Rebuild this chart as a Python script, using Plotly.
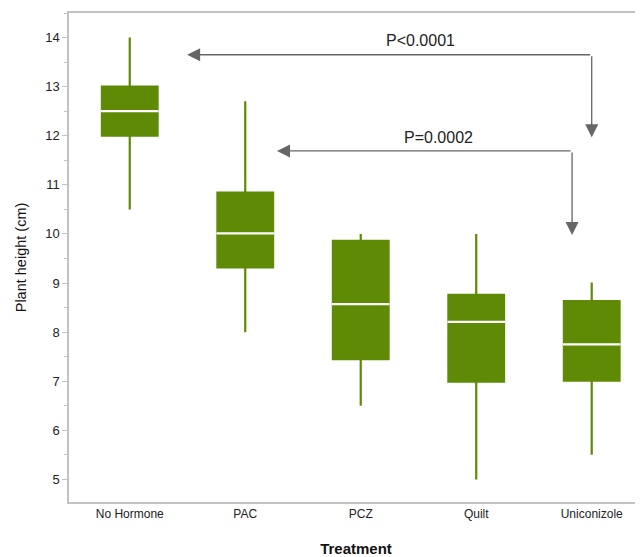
import plotly.graph_objects as go

categories = ["No Hormone", "PAC", "PCZ", "Quilt", "Uniconizole"]
lower_whisker = [10.5, 8.0, 6.5, 5.0, 5.5]
q1 = [12.0, 9.32, 7.45, 6.99, 7.01]
median = [12.5, 10.01, 8.57, 8.21, 7.75]
q3 = [13.0, 10.84, 9.86, 8.76, 8.63]
upper_whisker = [14.0, 12.7, 10.0, 10.0, 9.01]

y_ticks = [5, 6, 7, 8, 9, 10, 11, 12, 13, 14]

# comparison arrows
comp_labels = ["P<0.0001", "P=0.0002"]
comp_from_x = [4.0, 3.83]
comp_to_x = [0.497, 1.275]
comp_level_y = [13.65, 11.69]
comp_drop_y = [11.97, 9.98]
comp_label_x = [2.52, 2.67]
comp_label_y = [13.95, 11.97]

GREEN = "#5f8a06"
GRAY_AX = "#c2c2c2"
ARROW = "#666666"
FONT = "Liberation Sans, Arial, sans-serif"

xs = list(range(len(categories)))
BW = 0.482

fig = go.Figure()
fig.add_trace(go.Box(
    x=xs, q1=q1, median=median, q3=q3,
    lowerfence=lower_whisker, upperfence=upper_whisker,
    fillcolor=GREEN, line=dict(color=GREEN, width=2.2),
    whiskerwidth=0, width=BW, boxpoints=False, showlegend=False,
    hoverinfo="skip",
))

for i, m in enumerate(median):
    fig.add_trace(go.Scatter(
        x=[xs[i] - BW / 2 - 0.008, xs[i] + BW / 2 + 0.008], y=[m, m],
        mode="lines", line=dict(color="white", width=2.2),
        showlegend=False, hoverinfo="skip",
    ))

annotations = []
for k in range(len(comp_labels)):
    annotations.append(dict(
        x=comp_to_x[k], y=comp_level_y[k], ax=comp_from_x[k], ay=comp_level_y[k],
        xref="x", yref="y", axref="x", ayref="y", text="", showarrow=True,
        arrowhead=2, arrowsize=2.0, arrowwidth=1.3, arrowcolor=ARROW,
    ))
    annotations.append(dict(
        x=comp_from_x[k], y=comp_drop_y[k], ax=comp_from_x[k], ay=comp_level_y[k],
        xref="x", yref="y", axref="x", ayref="y", text="", showarrow=True,
        arrowhead=2, arrowsize=2.0, arrowwidth=1.3, arrowcolor=ARROW,
    ))
    annotations.append(dict(
        x=comp_label_x[k], y=comp_label_y[k], xref="x", yref="y",
        text=comp_labels[k], showarrow=False,
        font=dict(family=FONT, size=16, color="#222222"),
    ))

# page body has an 8px margin, so the figure is drawn 8px smaller and shifted
fig.update_layout(
    width=635, height=549,
    margin=dict(l=61, r=0, t=5, b=55),
    paper_bgcolor="white", plot_bgcolor="white",
    font=dict(family=FONT, color="#222222"),
    annotations=annotations,
    xaxis=dict(
        range=[-0.526, 4.444], tickvals=xs, ticktext=categories,
        showgrid=False, zeroline=False, showline=True, linecolor=GRAY_AX,
        linewidth=1.5, mirror=True, ticks="",
        tickfont=dict(family=FONT, size=12, color="#222222"),
        title=dict(text="<b>Treatment</b>", font=dict(family=FONT, size=15, color="#111111"), standoff=24),
    ),
    yaxis=dict(
        range=[4.54, 14.5], tickvals=y_ticks,
        showgrid=False, zeroline=False, showline=True, linecolor=GRAY_AX,
        linewidth=1.5, ticks="outside", ticklen=5, tickcolor=GRAY_AX, tickwidth=1,
        minor=dict(dtick=0.5, ticks="outside", ticklen=3, tickcolor=GRAY_AX, tickwidth=1, showgrid=False),
        tickfont=dict(family=FONT, size=13, color="#222222"),
        title=dict(text="Plant height (cm)", font=dict(family=FONT, size=14.5, color="#111111"), standoff=15),
    ),
)

fig.write_html("out.html")
